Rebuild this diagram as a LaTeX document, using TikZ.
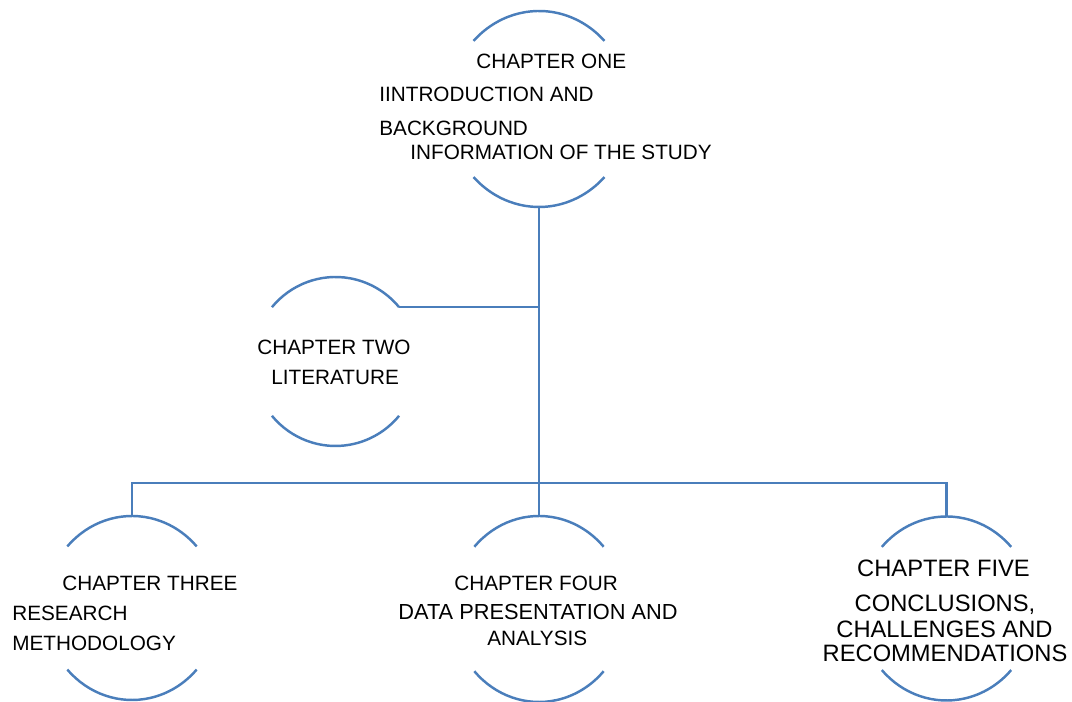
\documentclass[tikz,border=0pt]{standalone}
\usepackage{fontspec}
\setmainfont{Liberation Sans}
\usepackage{tikz}
\usetikzlibrary{positioning,calc}

\definecolor{chapblue}{HTML}{4A7EBB}

\begin{document}
\begin{tikzpicture}[x=0.02cm, y=0.02cm,
    chapline/.style={chapblue, line width=1.4pt},
    link/.style={chapblue, line width=1.4pt},
    chaptext/.style={inner sep=0pt, font=\fontsize{11.8}{14}\selectfont},
    bigtext/.style={inner sep=0pt, font=\fontsize{13.5}{16}\selectfont}]

\useasboundingbox (0,0) rectangle (1072,702);

% Chapter outlines: only the top and bottom arcs are drawn
\foreach \name/\x/\y/\rx/\ry/\a in {one/539/593/91/98/44,
    two/335.5/340.5/83/84.5/40, three/132/94/87/92/42,
    four/539/93/87/93/42, five/946.5/93.5/87/92/42}{
  \coordinate (\name) at (\x,\y);
  \draw[chapline] (\name) ++({-\rx*cos(\a)},{\ry*sin(\a)})
    arc[start angle=180-\a, end angle=\a, x radius=\rx, y radius=\ry];
  \draw[chapline] (\name) ++({-\rx*cos(\a)},{-\ry*sin(\a)})
    arc[start angle=180+\a, end angle=360-\a, x radius=\rx, y radius=\ry];
  \path (\name) ++(0,\ry) coordinate (\name-n);
  \path (\name) ++(0,-\ry) coordinate (\name-s);
  \path (\name) ++({\rx*cos(\a)},{\ry*sin(\a)}) coordinate (\name-ne);
}

% Chapter one
\node[chaptext, anchor=base west] (one-l1) at (476,633.5) {CHAPTER ONE};
\node[chaptext, anchor=base west] (one-l2) at (379,600.5) {IINTRODUCTION AND};
\node[chaptext, anchor=base west] (one-l3) at (379,566.5) {BACKGROUND};
\node[chaptext, anchor=base west] (one-l4) at (410,542.5) {INFORMATION OF THE STUDY};

% Chapter two
\node[chaptext, anchor=base west] (two-l1) at (257,347.5) {CHAPTER TWO};
\node[chaptext, anchor=base west] (two-l2) at (271,317.5) {LITERATURE};

% Chapter three
\node[chaptext, anchor=base west] (three-l1) at (62,111.5) {CHAPTER THREE};
\node[chaptext, anchor=base west] (three-l2) at (12,81.5) {RESEARCH};
\node[chaptext, anchor=base west] (three-l3) at (12,51.5) {METHODOLOGY};

% Chapter four
\node[chaptext, anchor=base west] (four-l1) at (454,111.5) {CHAPTER FOUR};
\node[chaptext, anchor=base west, font=\fontsize{12.4}{14}\selectfont] (four-l2) at (398,82) {DATA PRESENTATION AND};
\node[chaptext, anchor=base west] (four-l3) at (487,56.5) {ANALYSIS};

% Chapter five
\node[bigtext, anchor=base] (five-l1) at (943.5,125.5) {CHAPTER FIVE};
\node[bigtext, anchor=base] (five-l2) at (945,90.5) {CONCLUSIONS,};
\node[bigtext, anchor=base] (five-l3) at (944.5,64.5) {CHALLENGES AND};
\node[bigtext, anchor=base] (five-l4) at (945,40.5) {RECOMMENDATIONS};

% Connectors
\coordinate (bus) at (539,219);
\draw[link] (one-s) -- (bus);
\draw[link] (two-ne) -- (two-ne -| bus);
\draw[link] (three-n) |- (bus) -| (five-n);
\draw[link] (four-n) -- (bus);

\end{tikzpicture}
\end{document}
